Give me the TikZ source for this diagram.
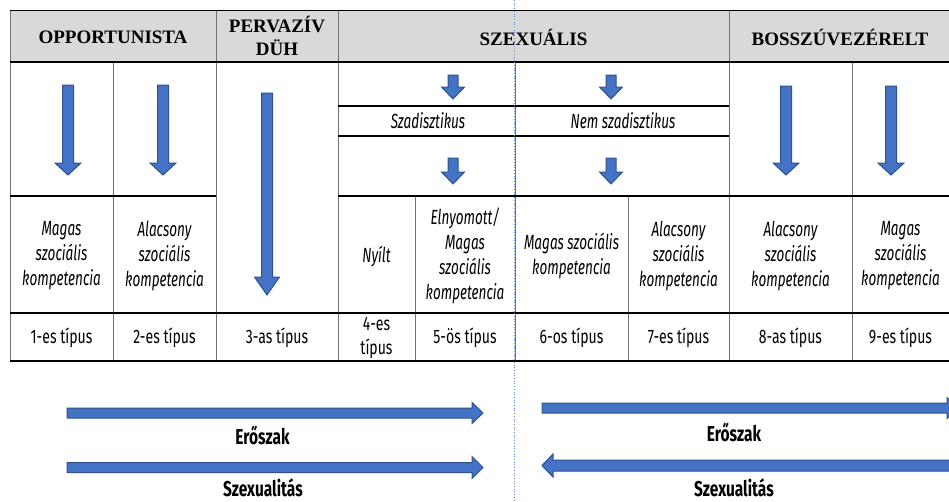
\documentclass[tikz,border=0pt]{standalone}
\usepackage{fontspec}
\setmainfont{Liberation Serif}
\newfontfamily\agency[FakeStretch=0.72]{Fira Sans}
\newfontfamily\agencyN[FakeStretch=0.66]{Fira Sans}
\definecolor{arrfill}{HTML}{4472C4}
\definecolor{arrdraw}{HTML}{2F528F}
\definecolor{headgray}{HTML}{D9D9D9}
\definecolor{dotblue}{HTML}{5B8BD9}
\tikzset{
  hline/.style={line width=1.4pt, black},
  thinline/.style={line width=0.8pt, black},
  vline/.style={line width=0.9pt, black!55},
  headtxt/.style={font=\fontsize{19}{23}\selectfont\bfseries, align=center, inner sep=0pt},
  celltxt/.style={font=\agencyN\itshape\fontsize{20.5}{25}\selectfont, align=center, inner sep=0pt},
  typetxt/.style={font=\agency\fontsize{19.5}{24}\selectfont, align=center, inner sep=0pt},
  boldtxt/.style={font=\agency\bfseries\fontsize{21.5}{24}\selectfont, inner sep=0pt},
  blockarrow/.style={fill=arrfill, draw=arrdraw, line width=1pt, line join=miter},
}
% cx, top, headstart, tip, shaft half width, head half width
\newcommand\myDown[6]{%
  \draw[blockarrow] ({#1-#5},#2) -- ({#1+#5},#2) -- ({#1+#5},#3) -- ({#1+#6},#3)
    -- (#1,#4) -- ({#1-#6},#3) -- ({#1-#5},#3) -- cycle;}
% cy, tail x, headstart x, tip x, shaft half width, head half width
\newcommand\myHoriz[6]{%
  \draw[blockarrow] (#2,{#1-#5}) -- (#3,{#1-#5}) -- (#3,{#1-#6}) -- (#4,#1)
    -- (#3,{#1+#6}) -- (#3,{#1+#5}) -- (#2,{#1+#5}) -- cycle;}
\begin{document}
\begin{tikzpicture}[x=1pt,y=-1pt]
\useasboundingbox (0,0) rectangle (949,501);
\clip (0,0) rectangle (949,501);
\fill[white] (0,0) rectangle (949,501);
% header
\fill[headgray] (10,10) rectangle (949,62);
\node[headtxt] (hOpp) at (113,37) {OPPORTUNISTA};
\node[headtxt] (hPerv) at (277,36) {PERVAZÍV\\DÜH};
\node[headtxt] (hSzex) at (533.5,37) {SZEXUÁLIS};
\node[headtxt] (hBossz) at (840,37) {BOSSZÚVEZÉRELT};
% vertical lines
\draw[vline] (10,10) -- (10,361);
\draw[vline] (113,62) -- (113,361);
\draw[vline] (216,10) -- (216,361);
\draw[vline] (338,10) -- (338,361);
\draw[vline] (415,196) -- (415,361);
\draw[vline] (515,62) -- (515,361);
\draw[vline] (628,196) -- (628,361);
\draw[vline] (729,10) -- (729,361);
\draw[vline] (852,62) -- (852,361);
% horizontal lines
\draw[thinline] (10,10) -- (949,10);
\draw[hline] (10,62) -- (949,62);
\draw[hline] (338,106) -- (729,106);
\draw[hline] (338,136) -- (729,136);
\draw[hline] (10,196) -- (216,196);
\draw[hline] (338,196) -- (949,196);
\draw[hline] (10,313) -- (949,313);
\draw[hline] (10,361) -- (949,361);
% down arrows
\myDown{68}{85}{163}{175}{5.5}{13}
\myDown{163}{85}{163}{175}{5.5}{13}
\myDown{267}{93}{277}{295}{5.5}{12.5}
\myDown{453}{75}{87}{99}{5}{11.5}
\myDown{611}{75}{87}{99}{5}{11.5}
\myDown{453}{158}{172}{184}{5}{11.5}
\myDown{611}{158}{172}{184}{5}{11.5}
\myDown{786}{86}{163}{175}{5.5}{13}
\myDown{891}{86}{163}{175}{5.5}{13}
% sub labels
\node[celltxt] (szad) at (428,121) {Szadisztikus};
\node[celltxt] (nemszad) at (623,121) {Nem szadisztikus};
% competence row
\node[celltxt] (c1) at (61.5,256) {Magas\\szociális\\kompetencia};
\node[celltxt] (c2) at (164.5,256) {Alacsony\\szociális\\kompetencia};
\node[celltxt] (c4) at (376.5,256) {Nyílt};
\node[celltxt] (c5) at (465,256) {Elnyomott/\\Magas\\szociális\\kompetencia};
\node[celltxt] (c6) at (571.5,256) {Magas szociális\\kompetencia};
\node[celltxt] (c7) at (678.5,256) {Alacsony\\szociális\\kompetencia};
\node[celltxt] (c8) at (790.5,256) {Alacsony\\szociális\\kompetencia};
\node[celltxt] (c9) at (900.5,256) {Magas\\szociális\\kompetencia};
% type row
\node[typetxt] (t1) at (61.5,338) {1-es típus};
\node[typetxt] (t2) at (164.5,338) {2-es típus};
\node[typetxt] (t3) at (277,338) {3-as típus};
\node[typetxt] (t4) at (376.5,338) {4-es\\típus};
\node[typetxt] (t5) at (465,338) {5-ös típus};
\node[typetxt] (t6) at (571.5,338) {6-os típus};
\node[typetxt] (t7) at (678.5,338) {7-es típus};
\node[typetxt] (t8) at (790.5,338) {8-as típus};
\node[typetxt] (t9) at (900.5,338) {9-es típus};
% bottom arrows
\myHoriz{413}{67}{472}{483}{5}{10.5}
\myHoriz{467.5}{67}{472}{483}{5}{11}
\myHoriz{408}{542}{947}{958}{5}{10.5}
\myHoriz{465.5}{960}{553}{542}{5.5}{11.5}
\node[boldtxt] (e1) at (262.5,435) {Erőszak};
\node[boldtxt] (s1) at (263,488) {Szexualitás};
\node[boldtxt] (e2) at (734,432) {Erőszak};
\node[boldtxt] (s2) at (734,488) {Szexualitás};
% dotted guide line
\coordinate (gTop) at (514.5,0);
\coordinate (gBot) at (514.5,501);
\draw[dotblue, line width=0.7pt, dotted] (gTop) -- (gBot);
\end{tikzpicture}
\end{document}
